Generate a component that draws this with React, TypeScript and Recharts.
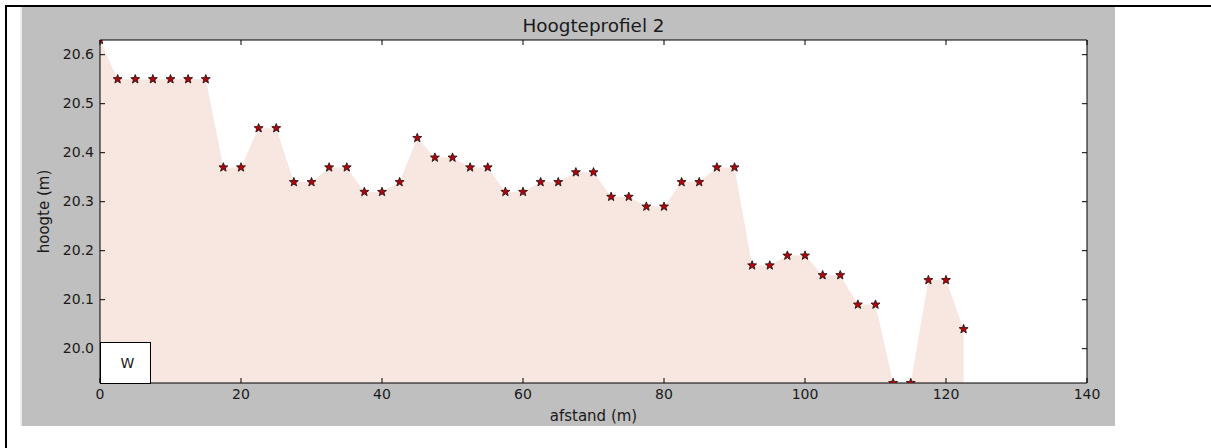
import React from "react";
import { ComposedChart, Area, Scatter, XAxis, YAxis } from "recharts";

const afstand: number[] = [
  0, 2.5, 5, 7.5, 10, 12.5, 15, 17.5, 20, 22.5, 25, 27.5, 30, 32.5, 35, 37.5, 40, 42.5, 45, 47.5,
  50, 52.5, 55, 57.5, 60, 62.5, 65, 67.5, 70, 72.5, 75, 77.5, 80, 82.5, 85, 87.5, 90, 92.5, 95,
  97.5, 100, 102.5, 105, 107.5, 110, 112.5, 115, 117.5, 120, 122.5,
];
const hoogte: number[] = [
  20.63, 20.55, 20.55, 20.55, 20.55, 20.55, 20.55, 20.37, 20.37, 20.45, 20.45, 20.34, 20.34, 20.37,
  20.37, 20.32, 20.32, 20.34, 20.43, 20.39, 20.39, 20.37, 20.37, 20.32, 20.32, 20.34, 20.34, 20.36,
  20.36, 20.31, 20.31, 20.29, 20.29, 20.34, 20.34, 20.37, 20.37, 20.17, 20.17, 20.19, 20.19, 20.15,
  20.15, 20.09, 20.09, 19.93, 19.93, 20.14, 20.14, 20.04,
];
const xTicks: number[] = [0, 20, 40, 60, 80, 100, 120, 140];
const yTicks: number[] = [20.0, 20.1, 20.2, 20.3, 20.4, 20.5, 20.6];
const title = "Hoogteprofiel 2";
const xLabel = "afstand (m)";
const yLabel = "hoogte (m)";
const boxText = "W";

const data = afstand.map((x, i) => ({ x, h: hoogte[i] }));

const FONT = "DejaVu Sans, sans-serif";
const TXT = "#1a1a1a";

const BottomTick = (p: any) => (
  <g>
    <line x1={p.x} x2={p.x} y1={p.y} y2={p.y - 5} stroke="#000" strokeWidth={1} />
    <text x={p.x} y={p.y + 16} textAnchor="middle" fontSize={14} fontFamily={FONT} fill={TXT}>
      {p.payload.value}
    </text>
  </g>
);
const TopTick = (p: any) => (
  <line x1={p.x} x2={p.x} y1={p.y} y2={p.y + 5} stroke="#000" strokeWidth={1} />
);
const LeftTick = (p: any) => (
  <g>
    <line x1={p.x} x2={p.x + 5} y1={p.y} y2={p.y} stroke="#000" strokeWidth={1} />
    <text x={p.x - 6} y={p.y + 4.5} textAnchor="end" fontSize={14} fontFamily={FONT} fill={TXT}>
      {Number(p.payload.value).toFixed(1)}
    </text>
  </g>
);
const RightTick = (p: any) => (
  <line x1={p.x} x2={p.x - 5} y1={p.y} y2={p.y} stroke="#000" strokeWidth={1} />
);

const Star = (p: any) => {
  const { cx, cy } = p;
  if (cx == null || cy == null) return null;
  const R = 4.7;
  const r = R * 0.42;
  const pts: string[] = [];
  for (let i = 0; i < 10; i++) {
    const a = -Math.PI / 2 + (i * Math.PI) / 5;
    const rr = i % 2 === 0 ? R : r;
    pts.push(`${cx + rr * Math.cos(a)},${cy + rr * Math.sin(a)}`);
  }
  return <polygon points={pts.join(" ")} fill="#b80008" stroke="#2a1515" strokeWidth={0.9} />;
};

export default function App() {
  return (
    <div
      style={{
        position: "absolute",
        left: 0,
        top: 0,
        width: 1211,
        height: 448,
        background: "#fff",
        overflow: "hidden",
      }}
    >
      <div style={{ position: "absolute", left: 5, top: 5, width: 1206, height: 2, background: "#000" }} />
      <div style={{ position: "absolute", left: 5, top: 5, width: 2, height: 443, background: "#000" }} />
      <div style={{ position: "absolute", left: 20, top: 7, width: 2, height: 419, background: "#ececec" }} />
      <div style={{ position: "absolute", left: 22, top: 7, width: 1093, height: 419, background: "#bfbfbf" }} />
      <div style={{ position: "absolute", left: 100, top: 40, width: 987, height: 343, background: "#fff" }} />
      <div style={{ position: "absolute", left: 0, top: 0 }}>
        <ComposedChart
          width={1211}
          height={448}
          data={data}
          margin={{ top: 39, right: 123, bottom: 35, left: 40 }}
        >
          <Area
            type="linear"
            dataKey="h"
            fill="#f8e6e0"
            fillOpacity={1}
            stroke="none"
            isAnimationActive={false}
            dot={false}
            activeDot={false}
          />
          <Scatter
            data={data}
            dataKey="h"
            xAxisId="top"
            yAxisId="right"
            shape={Star}
            isAnimationActive={false}
          />
          <XAxis
            dataKey="x"
            type="number"
            domain={[0, 140]}
            ticks={xTicks}
            interval={0}
            allowDataOverflow
            height={30}
            tickSize={0}
            tickMargin={0}
            tickLine={false}
            axisLine={{ stroke: "#000", strokeWidth: 1 }}
            tick={BottomTick}
            label={{
              content: (lp: any) => {
                const vb = lp.viewBox || { x: 100, y: 383, width: 987 };
                return (
                  <text x={vb.x + vb.width / 2} y={421} textAnchor="middle" fontSize={15} fontFamily={FONT} fill={TXT}>
                    {xLabel}
                  </text>
                );
              },
            }}
          />
          <XAxis
            xAxisId="top"
            dataKey="x"
            type="number"
            orientation="top"
            domain={[0, 140]}
            ticks={xTicks}
            interval={0}
            allowDataOverflow
            height={1}
            tickSize={0}
            tickMargin={0}
            tickLine={false}
            axisLine={{ stroke: "#000", strokeWidth: 1 }}
            tick={TopTick}
            label={{
              content: (lp: any) => {
                const vb = lp.viewBox || { x: 100, y: 40, width: 987 };
                return (
                  <text x={vb.x + vb.width / 2} y={31.5} textAnchor="middle" fontSize={18.4} fontFamily={FONT} fill={TXT}>
                    {title}
                  </text>
                );
              },
            }}
          />
          <YAxis
            dataKey="h"
            type="number"
            domain={[19.93, 20.63]}
            ticks={yTicks}
            interval={0}
            allowDataOverflow
            width={60}
            tickSize={0}
            tickMargin={0}
            tickLine={false}
            axisLine={{ stroke: "#000", strokeWidth: 1 }}
            tick={LeftTick}
            label={{
              content: (lp: any) => {
                const vb = lp.viewBox || { x: 40, y: 40, height: 343 };
                const cy = vb.y + vb.height / 2;
                return (
                  <text
                    x={49}
                    y={cy}
                    transform={`rotate(-90 49 ${cy})`}
                    textAnchor="middle"
                    fontSize={15}
                    fontFamily={FONT}
                    fill={TXT}
                  >
                    {yLabel}
                  </text>
                );
              },
            }}
          />
          <YAxis
            yAxisId="right"
            dataKey="h"
            orientation="right"
            type="number"
            domain={[19.93, 20.63]}
            ticks={yTicks}
            interval={0}
            allowDataOverflow
            width={1}
            tickSize={0}
            tickMargin={0}
            tickLine={false}
            axisLine={{ stroke: "#000", strokeWidth: 1 }}
            tick={RightTick}
          />
        </ComposedChart>
      </div>
      <div
        style={{
          position: "absolute",
          left: 100,
          top: 342,
          width: 51,
          height: 42,
          boxSizing: "border-box",
          border: "1.5px solid #000",
          background: "#fff",
          display: "flex",
          alignItems: "center",
          justifyContent: "center",
          fontFamily: FONT,
          fontSize: 14,
          color: TXT,
          paddingLeft: 4,
        }}
      >
        {boxText}
      </div>
    </div>
  );
}
